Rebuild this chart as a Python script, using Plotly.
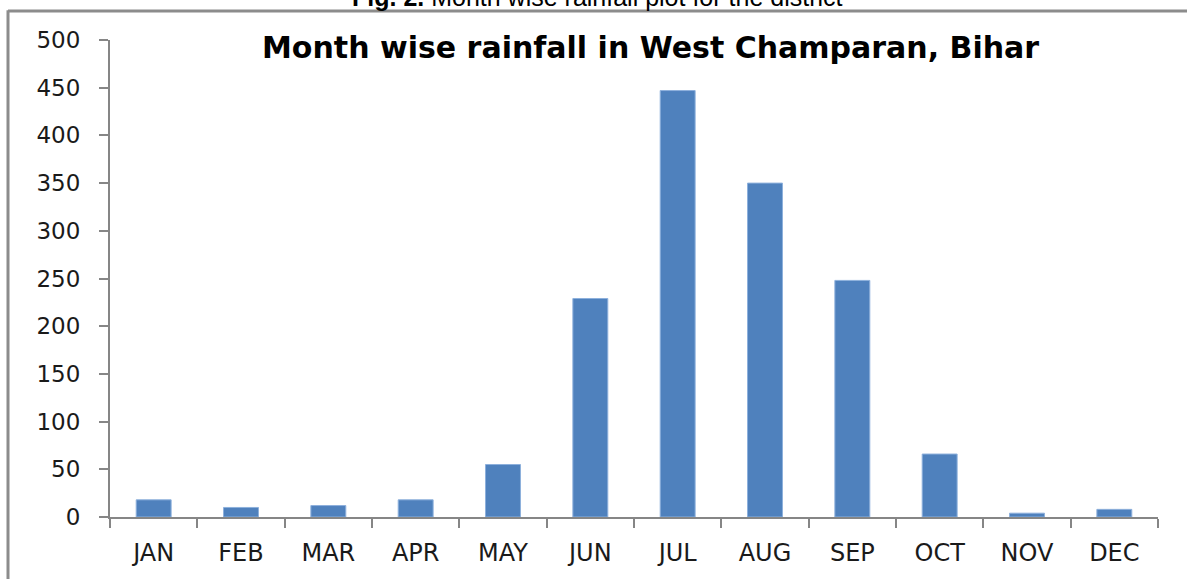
import plotly.graph_objects as go

months = ["JAN", "FEB", "MAR", "APR", "MAY", "JUN", "JUL", "AUG", "SEP", "OCT", "NOV", "DEC"]
rainfall = [18, 10, 12, 18, 55, 229, 447, 350, 248, 66, 4, 8]
y_ticks = [0, 50, 100, 150, 200, 250, 300, 350, 400, 450, 500]

title_text = "Month wise rainfall in West Champaran, Bihar"
caption_text = "<b>Fig. 2.</b> Month wise rainfall plot for the district"

W, H = 1187, 579
L, R, T, B = 110, 29, 40, 60
pw, ph = W - L - R, H - T - B

def px_to_paper_x(px):
    return (px - L) / pw

def px_to_paper_y(py):
    return 1 - (py - T) / ph

fig = go.Figure(
    go.Bar(
        x=months,
        y=rainfall,
        width=0.4,
        marker=dict(color="#4F81BD", line=dict(color="#8DB0DC", width=1)),
    )
)

axis_col = "#868686"
fig.update_layout(
    width=W,
    height=H,
    margin=dict(l=L, r=R, t=T, b=B, pad=0),
    paper_bgcolor="white",
    plot_bgcolor="white",
    showlegend=False,
    font=dict(family="DejaVu Sans", size=22, color="#1a1a1a"),
    xaxis=dict(
        type="category",
        showgrid=False,
        showline=True,
        linecolor=axis_col,
        linewidth=2,
        ticks="outside",
        tickson="boundaries",
        ticklen=9,
        tickwidth=2,
        tickcolor=axis_col,
        ticklabelstandoff=13,
        tickfont=dict(family="DejaVu Sans", size=24, color="#1a1a1a"),
    ),
    yaxis=dict(
        range=[0, 500],
        tickvals=y_ticks,
        showgrid=False,
        zeroline=False,
        showline=True,
        linecolor=axis_col,
        linewidth=2,
        ticks="outside",
        ticklen=9,
        tickwidth=2,
        tickcolor=axis_col,
        ticklabelstandoff=14,
        tickfont=dict(family="DejaVu Sans", size=23, color="#1a1a1a"),
    ),
)

fig.add_annotation(
    text="<b>" + title_text + "</b>",
    xref="paper", yref="paper",
    x=px_to_paper_x(650), y=px_to_paper_y(48),
    xanchor="center", yanchor="middle",
    showarrow=False,
    font=dict(family="DejaVu Sans", size=30, color="#000000"),
)

fig.add_annotation(
    text=caption_text,
    xref="paper", yref="paper",
    x=px_to_paper_x(597), y=px_to_paper_y(-3.5),
    xanchor="center", yanchor="middle",
    showarrow=False,
    font=dict(family="Liberation Sans", size=25, color="#000000"),
)

border_col = "#8C8C8C"
fig.add_shape(type="line", xref="paper", yref="paper",
              x0=px_to_paper_x(8), x1=px_to_paper_x(W + 5),
              y0=px_to_paper_y(11), y1=px_to_paper_y(11),
              line=dict(color=border_col, width=3))
fig.add_shape(type="line", xref="paper", yref="paper",
              x0=px_to_paper_x(8), x1=px_to_paper_x(8),
              y0=px_to_paper_y(10), y1=px_to_paper_y(H + 5),
              line=dict(color=border_col, width=3))

fig.write_html(
    "out.html",
    config={"displayModeBar": False},
    post_script="document.body.style.margin='0';document.body.style.overflow='hidden';",
)
